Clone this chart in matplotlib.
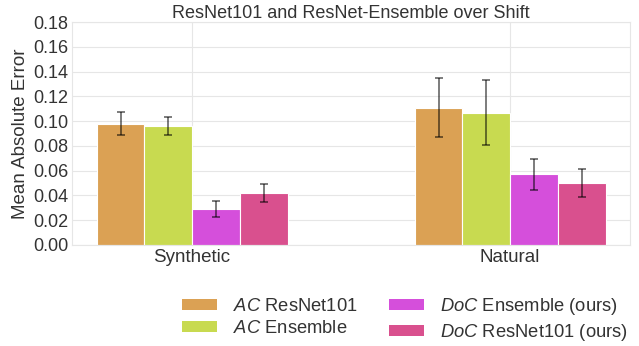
import numpy as np
import matplotlib.pyplot as plt
from matplotlib.patches import Patch

categories = ['Synthetic', 'Natural']
labels = [r'$\it{AC}$ ResNet101', r'$\it{AC}$ Ensemble',
          r'$\it{DoC}$ Ensemble (ours)', r'$\it{DoC}$ ResNet101 (ours)']
colors = ['#DBA154', '#C8DA50', '#D54FDB', '#D9508E']

ac_resnet = [0.098, 0.111]
ac_ensemble = [0.096, 0.107]
doc_ensemble = [0.029, 0.057]
doc_resnet = [0.042, 0.050]

ac_resnet_err = [0.0095, 0.0235]
ac_ensemble_err = [0.0075, 0.026]
doc_ensemble_err = [0.0065, 0.0125]
doc_resnet_err = [0.0075, 0.011]

series = [ac_resnet, ac_ensemble, doc_ensemble, doc_resnet]
errors = [ac_resnet_err, ac_ensemble_err, doc_ensemble_err, doc_resnet_err]

plt.rcParams['font.family'] = ['Liberation Sans', 'DejaVu Sans']
plt.rcParams['mathtext.fontset'] = 'custom'
plt.rcParams['mathtext.it'] = 'Liberation Sans:italic'
plt.rcParams['mathtext.rm'] = 'Liberation Sans'

fig = plt.figure(figsize=(6.39, 3.46), dpi=100)
ax = fig.add_axes([0.113, 0.292, 0.873, 0.644])

x = np.arange(len(categories))
w = 0.15
for i, (vals, errs) in enumerate(zip(series, errors)):
    ax.bar(x + (i - 1.5) * w, vals, w, color=colors[i], edgecolor='white',
           linewidth=0.8, zorder=2)
    ax.errorbar(x + (i - 1.5) * w, vals, yerr=errs, fmt='none',
                ecolor='black', alpha=0.6, elinewidth=1.2, capsize=3,
                capthick=1.2, zorder=3)

ax.set_xlim(-0.377, 1.377)
ax.set_ylim(0, 0.18)
ax.set_yticks(np.arange(0, 0.181, 0.02))
ax.set_yticklabels([f'{v:.2f}' for v in np.arange(0, 0.181, 0.02)])
ax.set_xticks(x)
ax.set_xticklabels(categories, fontsize=13.5)
ax.tick_params(axis='y', labelsize=13)
ax.tick_params(axis='both', length=0, pad=3, colors='#333333')
ax.set_ylabel('Mean Absolute Error', fontsize=13.5, color='#333333', labelpad=3)
ax.set_title('ResNet101 and ResNet-Ensemble over Shift', fontsize=13,
             color='#333333', pad=3)
ax.grid(True, color='#e6e6e6', linewidth=0.8, zorder=0)
ax.set_axisbelow(True)
for s in ax.spines.values():
    s.set_color('#e6e6e6')
    s.set_linewidth(0.8)

handles = [Patch(facecolor=c) for c in colors]
fig.legend(handles, labels, loc='upper center', bbox_to_anchor=(0.634, 0.192),
           ncol=2, frameon=False, fontsize=13.2, handlelength=1.9,
           handleheight=0.55, handletextpad=0.9, columnspacing=1.7,
           labelspacing=0.25, labelcolor='#333333')

fig.savefig('out.png', dpi=100)
